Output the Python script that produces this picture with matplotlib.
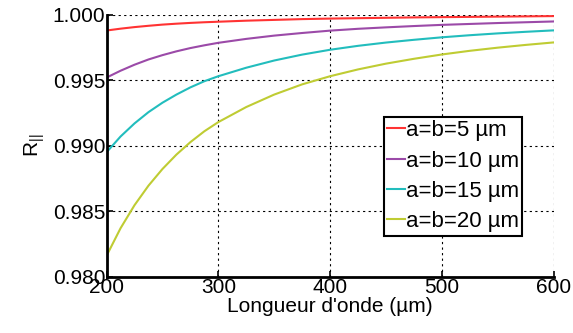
import matplotlib
matplotlib.use("Agg")
import matplotlib.pyplot as plt

plt.rcParams['font.family'] = ['Liberation Sans', 'DejaVu Sans']
plt.rcParams['mathtext.fontset'] = 'custom'
plt.rcParams['mathtext.rm'] = 'Liberation Sans'
plt.rcParams['mathtext.default'] = 'regular'

wavelength = [200, 212.5, 225, 237.5, 250, 262.5, 275, 287.5, 300, 325, 350, 375, 400,
              425, 450, 475, 500, 525, 550, 575, 600]
r_a5 = [0.99879, 0.99893, 0.99905, 0.99915, 0.99924, 0.99931, 0.99937, 0.99942, 0.99946,
        0.99954, 0.99960, 0.99966, 0.99970, 0.99973, 0.99976, 0.99979, 0.99981, 0.99983,
        0.99985, 0.99987, 0.99989]
r_a10 = [0.99520, 0.99572, 0.99618, 0.99658, 0.99691, 0.99720, 0.99745, 0.99766, 0.99785,
         0.99815, 0.99840, 0.99860, 0.99878, 0.99892, 0.99903, 0.99913, 0.99922, 0.99929,
         0.99936, 0.99942, 0.99948]
r_a15 = [0.98950, 0.99070, 0.99170, 0.99256, 0.99328, 0.99390, 0.99445, 0.99492, 0.99530,
         0.99595, 0.99650, 0.99695, 0.99732, 0.99762, 0.99787, 0.99808, 0.99827, 0.99843,
         0.99857, 0.99869, 0.99880]
r_a20 = [0.98160, 0.98370, 0.98546, 0.98695, 0.98822, 0.98932, 0.99027, 0.99110, 0.99180,
         0.99295, 0.99390, 0.99468, 0.99530, 0.99582, 0.99626, 0.99663, 0.99696, 0.99724,
         0.99748, 0.99769, 0.99788]
labels = ['a=b=5 µm', 'a=b=10 µm', 'a=b=15 µm', 'a=b=20 µm']
colors = ['#FF3333', '#9B4AA8', '#22BDBD', '#BFCC33']

xticks = [200, 300, 400, 500, 600]
yticks = [0.980, 0.985, 0.990, 0.995, 1.000]

fig = plt.figure(figsize=(5.73, 3.33), dpi=100)
ax = fig.add_axes([0.186, 0.169, 0.780, 0.787])

for vals, lab, col in zip([r_a5, r_a10, r_a15, r_a20], labels, colors):
    ax.plot(wavelength, vals, color=col, lw=1.5, label=lab)

ax.set_xlim(200, 600)
ax.set_ylim(0.980, 1.000)
ax.set_xticks(xticks)
ax.set_yticks(yticks)
ax.set_yticklabels(['%.3f' % v for v in yticks])
ax.grid(True, color='black', linestyle=(0, (2, 3)), linewidth=0.8)
ax.spines['top'].set_visible(False)
ax.spines['right'].set_visible(False)
for s in ['left', 'bottom']:
    ax.spines[s].set_linewidth(2)
ax.tick_params(direction='in', length=4, width=1.2, labelsize=15, pad=1)
ax.set_xlabel("Longueur d'onde (µm)", fontsize=15, labelpad=0)
ax.set_ylabel(r'R$_{||}$', fontsize=15, labelpad=4)

leg = ax.legend(loc='upper left', bbox_to_anchor=(0.620, 0.61), fontsize=16,
                handlelength=0.8, handletextpad=0.05, labelspacing=0.42,
                borderpad=0.15, borderaxespad=0, fancybox=False, framealpha=1,
                edgecolor='black')
leg.get_frame().set_linewidth(1.5)

fig.savefig('out.png', dpi=100)
